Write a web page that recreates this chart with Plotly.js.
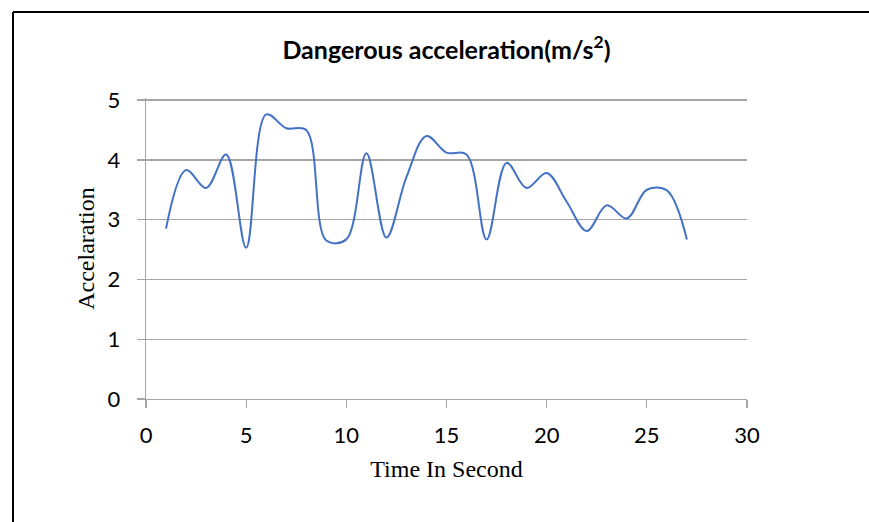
<!DOCTYPE html>
<html>
<head>
<meta charset="utf-8">
<script src="https://cdn.plot.ly/plotly-3.0.1.min.js"></script>
<style>html,body{margin:0;padding:0;background:#fff;}#chart{width:869px;height:522px;}</style>
</head>
<body>
<div id="chart"></div>
<script>
var timeSeconds = [1,2,3,4,5,6,7,8,9,10,11,12,13,14,15,16,17,18,19,20,21,22,23,24,25,26,27];
var acceleration = [2.85,3.83,3.53,4.09,2.53,4.76,4.53,4.5,2.65,2.67,4.11,2.70,3.71,4.40,4.12,4.09,2.67,3.95,3.53,3.78,3.30,2.81,3.24,3.02,3.50,3.49,2.67];
var xTicks = [0,5,10,15,20,25,30];
var yTicks = [0,1,2,3,4,5];

var trace = {
  x: timeSeconds, y: acceleration, type: 'scatter', mode: 'lines',
  line: {color: '#4472c4', width: 2, shape: 'spline', smoothing: 1},
  hoverinfo: 'x+y'
};
var layout = {
  width: 869, height: 522,
  margin: {l: 146, r: 122, t: 98, b: 123},
  paper_bgcolor: '#ffffff', plot_bgcolor: '#ffffff',
  showlegend: false,
  title: {text: '<b>Dangerous acceleration(m/s<sup>2</sup>)</b>', font: {family: 'Lato, "Open Sans", sans-serif', size: 25, color: '#000'},
          x: 0.5, xref: 'paper', y: 1 - 50/522, yref: 'container', yanchor: 'middle'},
  xaxis: {range: [0, 30], tickvals: xTicks, ticktext: xTicks.map(String), showgrid: false, zeroline: false,
          showline: true, linecolor: '#a6a6a6', linewidth: 1.3, ticks: 'outside', ticklen: 8, tickcolor: '#a6a6a6', tickwidth: 1.3,
          ticklabelstandoff: 8,
          tickfont: {family: 'Lato, "Open Sans", sans-serif', size: 22, color: '#000'},
          title: {text: 'Time In Second', font: {family: '"Liberation Serif", "Times New Roman", serif', size: 24, color: '#000'}, standoff: 13}},
  yaxis: {range: [0, 5.035], tickvals: yTicks, ticktext: yTicks.map(String), showgrid: true, gridcolor: '#a6a6a6', gridwidth: 1.3, zeroline: false,
          showline: true, linecolor: '#a6a6a6', linewidth: 1.3, ticks: 'outside', ticklen: 8, tickcolor: '#a6a6a6', tickwidth: 1.3,
          ticklabelstandoff: 12,
          tickfont: {family: 'Lato, "Open Sans", sans-serif', size: 22, color: '#000'},
          title: {text: 'Accelaration', font: {family: '"Liberation Serif", "Times New Roman", serif', size: 24, color: '#000'}, standoff: 6}},
  shapes: [
    {type: 'line', xref: 'paper', yref: 'paper', x0: (13-146)/601, x1: (875-146)/601, y0: (399-12)/301, y1: (399-12)/301, line: {color: '#000', width: 2}},
    {type: 'line', xref: 'paper', yref: 'paper', x0: (13-146)/601, x1: (13-146)/601, y0: (399-12)/301, y1: (399-560)/301, line: {color: '#000', width: 2}}
  ]
};
Plotly.newPlot('chart', [trace], layout, {displayModeBar: false, staticPlot: true});
</script>
</body>
</html>
